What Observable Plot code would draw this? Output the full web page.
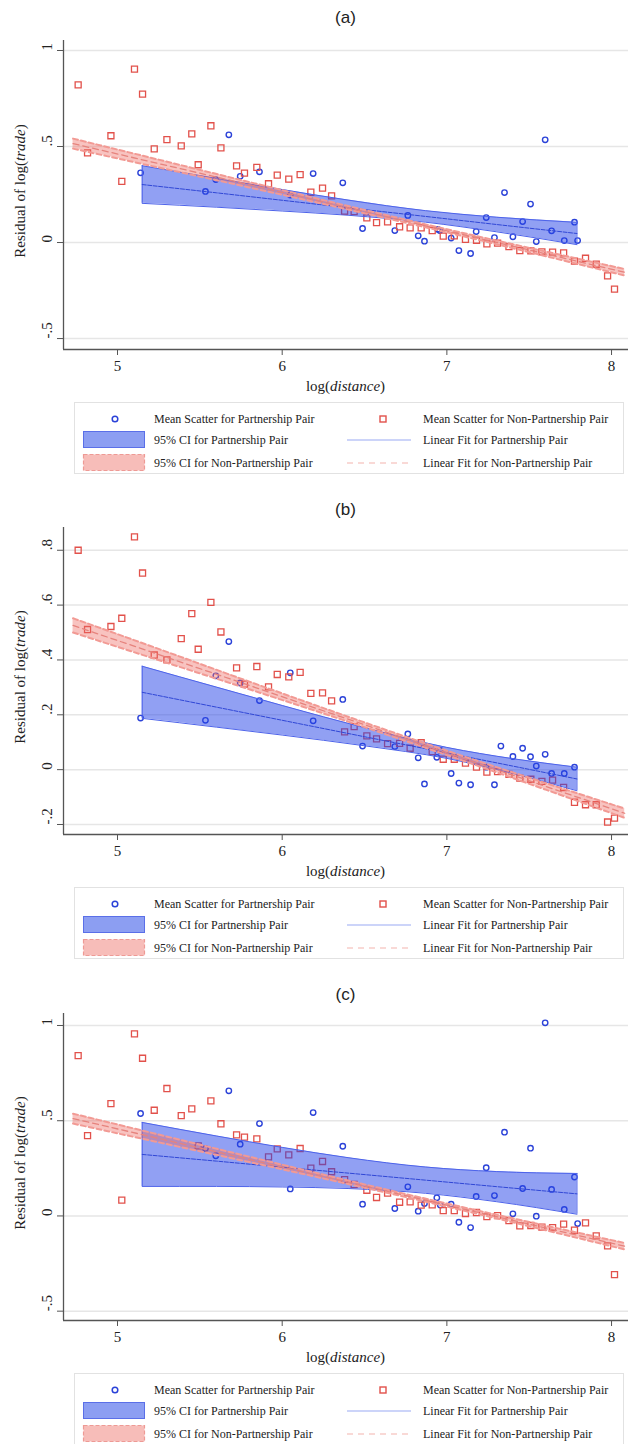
<!DOCTYPE html>
<html><head><meta charset="utf-8">
<script src="https://cdn.jsdelivr.net/npm/d3@7"></script>
<script src="https://cdn.jsdelivr.net/npm/@observablehq/plot@0.6"></script>
<style>
body{margin:0;background:#fff;}
#root{position:relative;width:628px;height:1444px;overflow:hidden;font-family:"Liberation Serif","Times New Roman",serif;color:#222;}
.title{position:absolute;left:63px;width:565px;text-align:center;font-family:"Liberation Sans",Arial,sans-serif;font-size:17px;line-height:20px;color:#222;}
.ylab{position:absolute;left:20px;font-size:15px;white-space:nowrap;transform:translate(-50%,-50%) rotate(-90deg);line-height:16px;font-family:"Liberation Serif",serif;}
.xlab{position:absolute;left:63px;width:565px;text-align:center;font-size:15px;line-height:16px;font-family:"Liberation Serif",serif;}
.plot{position:absolute;left:0;}
.plot text{font-family:"Liberation Serif",serif !important;}
.legend{position:absolute;left:74px;width:550px;height:72px;border:1px solid #e2e2e2;box-sizing:border-box;font-size:12px;font-family:"Liberation Serif",serif;}
.legend span{position:absolute;white-space:nowrap;line-height:14px;font-family:"Liberation Serif",serif;}
.legend svg{position:absolute;left:0;top:0;}
</style>
</head><body><div id="root"></div>
<script>
// ---------- data ----------
const xDomain = [4.672, 8.103];
const xTicks = [5, 6, 7, 8];
const xTickLabels = ["5", "6", "7", "8"];

const panelTitles = ["(a)", "(b)", "(c)"];

const yTicksA = [-0.5, 0, 0.5, 1];
const yTickLabelsA = ["-.5", "0", ".5", "1"];
const yTicksB = [-0.2, 0, 0.2, 0.4, 0.6, 0.8];
const yTickLabelsB = ["-.2", "0", ".2", ".4", ".6", ".8"];
const yTicksC = [-0.5, 0, 0.5, 1];
const yTickLabelsC = ["-.5", "0", ".5", "1"];

// non-partnership bin means (x shared)
const nonPartnerX = [4.761,4.818,4.960,5.026,5.103,5.152,5.223,5.300,5.387,5.451,5.490,5.567,5.628,5.723,5.771,5.846,5.917,5.970,6.040,6.109,6.174,6.245,6.300,6.379,6.437,6.514,6.573,6.640,6.713,6.777,6.844,6.911,6.978,7.045,7.113,7.180,7.243,7.308,7.377,7.443,7.510,7.577,7.642,7.709,7.775,7.842,7.907,7.976,8.018];
const nonPartnerYA = [.821,.467,.556,.318,.903,.773,.488,.536,.503,.566,.405,.608,.493,.399,.361,.391,.306,.351,.330,.354,.262,.283,.243,.163,.161,.128,.104,.108,.082,.076,.076,.0625,.033,.035,.016,.012,-.007,-.003,-.021,-.042,-.043,-.049,-.050,-.054,-.097,-.082,-.113,-.174,-.243];
const nonPartnerYB = [.800,.511,.522,.552,.849,.717,.418,.400,.478,.569,.439,.610,.502,.371,.312,.376,.302,.347,.338,.355,.278,.280,.251,.138,.157,.123,.112,.095,.096,.078,.098,.066,.038,.038,.024,.009,-.009,-.007,-.017,-.031,-.035,-.043,-.038,-.065,-.119,-.128,-.128,-.191,-.177];
const nonPartnerYC = [.842,.422,.590,.083,.956,.828,.555,.669,.527,.562,.368,.604,.484,.426,.414,.405,.310,.352,.321,.354,.251,.286,.232,.191,.165,.135,.097,.120,.072,.074,.057,.058,.028,.028,.013,.018,-.004,.002,-.024,-.052,-.050,-.059,-.061,-.043,-.075,-.036,-.105,-.157,-.308];

// partnership bin means
const partnerXA = [5.140,5.534,5.597,5.676,5.745,5.862,6.049,6.188,6.368,6.488,6.684,6.763,6.826,6.864,6.945,6.957,7.026,7.073,7.144,7.178,7.239,7.289,7.350,7.401,7.460,7.508,7.543,7.597,7.636,7.713,7.775,7.794];
const partnerYA = [.363,.266,.328,.561,.345,.368,.247,.359,.311,.073,.0625,.141,.035,.007,.069,.0625,.023,-.042,-.057,.057,.130,.026,.260,.030,.109,.200,.005,.535,.061,.010,.106,.010];
const partnerXB = [5.140,5.534,5.597,5.676,5.745,5.862,6.049,6.188,6.368,6.488,6.684,6.763,6.826,6.864,6.939,6.960,7.026,7.073,7.144,7.239,7.289,7.328,7.401,7.460,7.508,7.543,7.597,7.636,7.713,7.775];
const partnerYB = [.188,.180,.342,.467,.316,.252,.353,.178,.256,.086,.084,.130,.043,-.052,.045,.070,-.014,-.049,-.055,.009,-.055,.086,.048,.078,.047,.013,.056,-.014,-.014,.009];
const partnerXC = [5.140,5.534,5.597,5.676,5.745,5.862,6.049,6.188,6.368,6.488,6.684,6.763,6.826,6.864,6.939,6.960,7.026,7.073,7.144,7.178,7.239,7.289,7.350,7.401,7.460,7.508,7.543,7.597,7.636,7.713,7.775,7.794];
const partnerYC = [.538,.354,.316,.657,.377,.485,.142,.543,.366,.062,.039,.153,.025,.065,.095,.057,.062,-.033,-.061,.102,.253,.107,.440,.011,.144,.356,-.001,1.014,.139,.034,.204,-.040];

// partnership linear fit and 95% CI
const partnerCiXA = [5.15,5.6,6.0,6.4,6.87,7.3,7.79];
const partnerLoA  = [.204,.184,.164,.142,.106,.056,-.011];
const partnerHiA  = [.400,.334,.276,.221,.166,.132,.105];
const partnerFitA = [.302,.259,.220,.181,.136,.094,.047];
const partnerCiXB = [5.15,5.6,6.0,6.5,7.0,7.4,7.79];
const partnerLoB  = [.187,.155,.126,.087,.041,-.014,-.077];
const partnerHiB  = [.377,.301,.234,.153,.081,.040,.009];
const partnerFitB = [.282,.228,.180,.120,.061,.013,-.034];
const partnerCiXC = [5.15,5.6,6.0,6.4,6.87,7.3,7.79];
const partnerLoC  = [.155,.155,.152,.144,.119,.075,.009];
const partnerHiC  = [.491,.420,.360,.306,.257,.233,.223];
const partnerFitC = [.323,.288,.256,.225,.188,.154,.116];

// non-partnership linear fit and 95% CI
const nonPartnerCiX = [4.73,5.2,5.8,6.4,7.0,7.6,8.08];
const nonPartnerFitA = [.515,.421,.301,.181,.061,-.059,-.155];
const nonPartnerLoA  = [.489,.400,.287,.172,.053,-.071,-.172];
const nonPartnerHiA  = [.541,.442,.315,.190,.069,-.047,-.138];
const nonPartnerFitB = [.526,.430,.307,.184,.061,-.061,-.159];
const nonPartnerLoB  = [.500,.409,.293,.175,.053,-.073,-.176];
const nonPartnerHiB  = [.552,.451,.321,.193,.069,-.049,-.142];
const nonPartnerFitC = [.511,.417,.297,.177,.057,-.063,-.159];
const nonPartnerLoC  = [.485,.396,.283,.168,.049,-.075,-.176];
const nonPartnerHiC  = [.537,.438,.311,.186,.065,-.051,-.142];

const legendLabels = [
  "Mean Scatter for Partnership Pair", "Mean Scatter for Non-Partnership Pair",
  "95% CI for Partnership Pair", "Linear Fit for Partnership Pair",
  "95% CI for Non-Partnership Pair", "Linear Fit for Non-Partnership Pair"
];

// ---------- layout ----------
const panels = [
  {title: panelTitles[0], titleY: 8, top: 30, height: 365, yDomain: [-0.557, 1.052], yTicks: yTicksA, yLabels: yTickLabelsA,
   px: partnerXA, py: partnerYA, nx: nonPartnerX, ny: nonPartnerYA,
   bx: partnerCiXA, blo: partnerLoA, bhi: partnerHiA, bfit: partnerFitA,
   rlo: nonPartnerLoA, rhi: nonPartnerHiA, rfit: nonPartnerFitA},
  {title: panelTitles[1], titleY: 500, top: 517, height: 363, yDomain: [-0.2365, 0.883], yTicks: yTicksB, yLabels: yTickLabelsB,
   px: partnerXB, py: partnerYB, nx: nonPartnerX, ny: nonPartnerYB,
   bx: partnerCiXB, blo: partnerLoB, bhi: partnerHiB, bfit: partnerFitB,
   rlo: nonPartnerLoB, rhi: nonPartnerHiB, rfit: nonPartnerFitB},
  {title: panelTitles[2], titleY: 985, top: 1003, height: 363, yDomain: [-0.549, 1.063], yTicks: yTicksC, yLabels: yTickLabelsC,
   px: partnerXC, py: partnerYC, nx: nonPartnerX, ny: nonPartnerYC,
   bx: partnerCiXC, blo: partnerLoC, bhi: partnerHiC, bfit: partnerFitC,
   rlo: nonPartnerLoC, rhi: nonPartnerHiC, rfit: nonPartnerFitC}
];

const BLUE = "#2b42d8", RED = "#e2514b";
const SERIF = "Liberation Serif, serif";
const root = document.getElementById("root");

function el(tag, cls, html, style) {
  const e = document.createElement(tag);
  if (cls) e.className = cls;
  if (html != null) e.innerHTML = html;
  if (style) Object.assign(e.style, style);
  root.appendChild(e);
  return e;
}

for (const p of panels) {
  const mt = 10, mb = 46;
  const axisY = p.top + p.height - mb;
  const plotTop = p.top + mt;

  el("div", "title", p.title, {top: p.titleY + "px"});

  const blue = p.px.map((x, i) => ({x, y: p.py[i]}));
  const red = p.nx.map((x, i) => ({x, y: p.ny[i]}));
  const bband = p.bx.map((x, i) => ({x, lo: p.blo[i], hi: p.bhi[i], fit: p.bfit[i]}));
  const rband = nonPartnerCiX.map((x, i) => ({x, lo: p.rlo[i], hi: p.rhi[i], fit: p.rfit[i]}));
  const fmtY = d => p.yLabels[p.yTicks.indexOf(d)];

  const chart = Plot.plot({
    width: 628, height: p.height,
    marginLeft: 63, marginRight: 0, marginTop: mt, marginBottom: mb,
    style: {fontFamily: SERIF, fontSize: "15px", color: "#222", background: "transparent", overflow: "visible"},
    x: {domain: xDomain},
    y: {domain: p.yDomain},
    marks: [
      Plot.gridY(p.yTicks, {stroke: "#e6e6e6", strokeOpacity: 1, strokeWidth: 1.5}),
      Plot.dot(blue, {x: "x", y: "y", r: 2.7, symbol: "circle", stroke: BLUE, strokeWidth: 1.4, fill: "none"}),
      Plot.dot(red, {x: "x", y: "y", r: 3.4, symbol: "square", stroke: RED, strokeWidth: 1.3, fill: "none"}),
      Plot.areaY(bband, {x: "x", y1: "lo", y2: "hi", fill: "#2442e8", fillOpacity: 0.5, curve: "monotone-x"}),
      Plot.lineY(bband, {x: "x", y: "lo", stroke: "#4d63ea", strokeWidth: 1, curve: "monotone-x"}),
      Plot.lineY(bband, {x: "x", y: "hi", stroke: "#4d63ea", strokeWidth: 1, curve: "monotone-x"}),
      Plot.ruleX(bband.filter((d, i) => i === 0 || i === bband.length - 1), {x: "x", y1: "lo", y2: "hi", stroke: "#4d63ea", strokeWidth: 1}),
      Plot.lineY(bband, {x: "x", y: "fit", stroke: "#3047d6", strokeWidth: 1, strokeDasharray: "4,1.5"}),
      Plot.areaY(rband, {x: "x", y1: "lo", y2: "hi", fill: "#ee6a62", fillOpacity: 0.4, curve: "monotone-x"}),
      Plot.lineY(rband, {x: "x", y: "lo", stroke: "#f29a94", strokeWidth: 2, strokeDasharray: "5,3", curve: "monotone-x"}),
      Plot.lineY(rband, {x: "x", y: "hi", stroke: "#f29a94", strokeWidth: 2, strokeDasharray: "5,3", curve: "monotone-x"}),
      Plot.lineY(rband, {x: "x", y: "fit", stroke: "#e6837d", strokeWidth: 1.3, strokeDasharray: "6,4"}),
      Plot.ruleX([xDomain[0]], {stroke: "#555", strokeWidth: 1.3}),
      Plot.ruleY([p.yDomain[0]], {stroke: "#555", strokeWidth: 1.3}),
      Plot.axisX(xTicks, {tickSize: 6, tickPadding: 5, stroke: "#555", fill: "#222", fontSize: 15, fontFamily: SERIF, label: null,
        tickFormat: d => xTickLabels[xTicks.indexOf(d)]}),
      Plot.axisY(p.yTicks, {tickSize: 6, stroke: "#555", label: null, tickFormat: () => ""}),
      Plot.text(p.yTicks, {y: d => d, text: fmtY, frameAnchor: "left", dx: -16, rotate: -90, fontSize: 15, fontFamily: SERIF, fill: "#222"})
    ]
  });
  chart.classList.add("plot");
  chart.style.top = p.top + "px";
  chart.style.position = "absolute";
  root.appendChild(chart);

  el("div", "ylab", "Residual of log(<i>trade</i>)", {top: ((plotTop + axisY) / 2 - 4) + "px"});
  el("div", "xlab", "log(<i>distance</i>)", {top: (axisY + 29) + "px"});

  // legend
  const lg = el("div", "legend", null, {top: (axisY + 53) + "px"});
  lg.innerHTML = `
  <svg width="550" height="72">
    <circle cx="40" cy="16" r="2.8" fill="none" stroke="${BLUE}" stroke-width="1.5"/>
    <rect x="8.5" y="28.5" width="61" height="16" fill="#8c9ef2" stroke="#5a6fe8" stroke-width="1"/>
    <rect x="8.5" y="51.5" width="61" height="16" fill="#f7bdb9" stroke="#ee9a95" stroke-width="1.2" stroke-dasharray="4,2"/>
    <rect x="305" y="13" width="6" height="6" fill="none" stroke="${RED}" stroke-width="1.4"/>
    <line x1="272" x2="336" y1="37" y2="37" stroke="#9aa9f3" stroke-width="1.2"/>
    <line x1="272" x2="336" y1="60" y2="60" stroke="#f3b3ae" stroke-width="1.2" stroke-dasharray="6,5"/>
  </svg>
  <span style="left:79px;top:9px">${legendLabels[0]}</span>
  <span style="left:348px;top:9px">${legendLabels[1]}</span>
  <span style="left:79px;top:30px">${legendLabels[2]}</span>
  <span style="left:348px;top:30px">${legendLabels[3]}</span>
  <span style="left:79px;top:53px">${legendLabels[4]}</span>
  <span style="left:348px;top:53px">${legendLabels[5]}</span>`;
}
</script>
</body></html>
